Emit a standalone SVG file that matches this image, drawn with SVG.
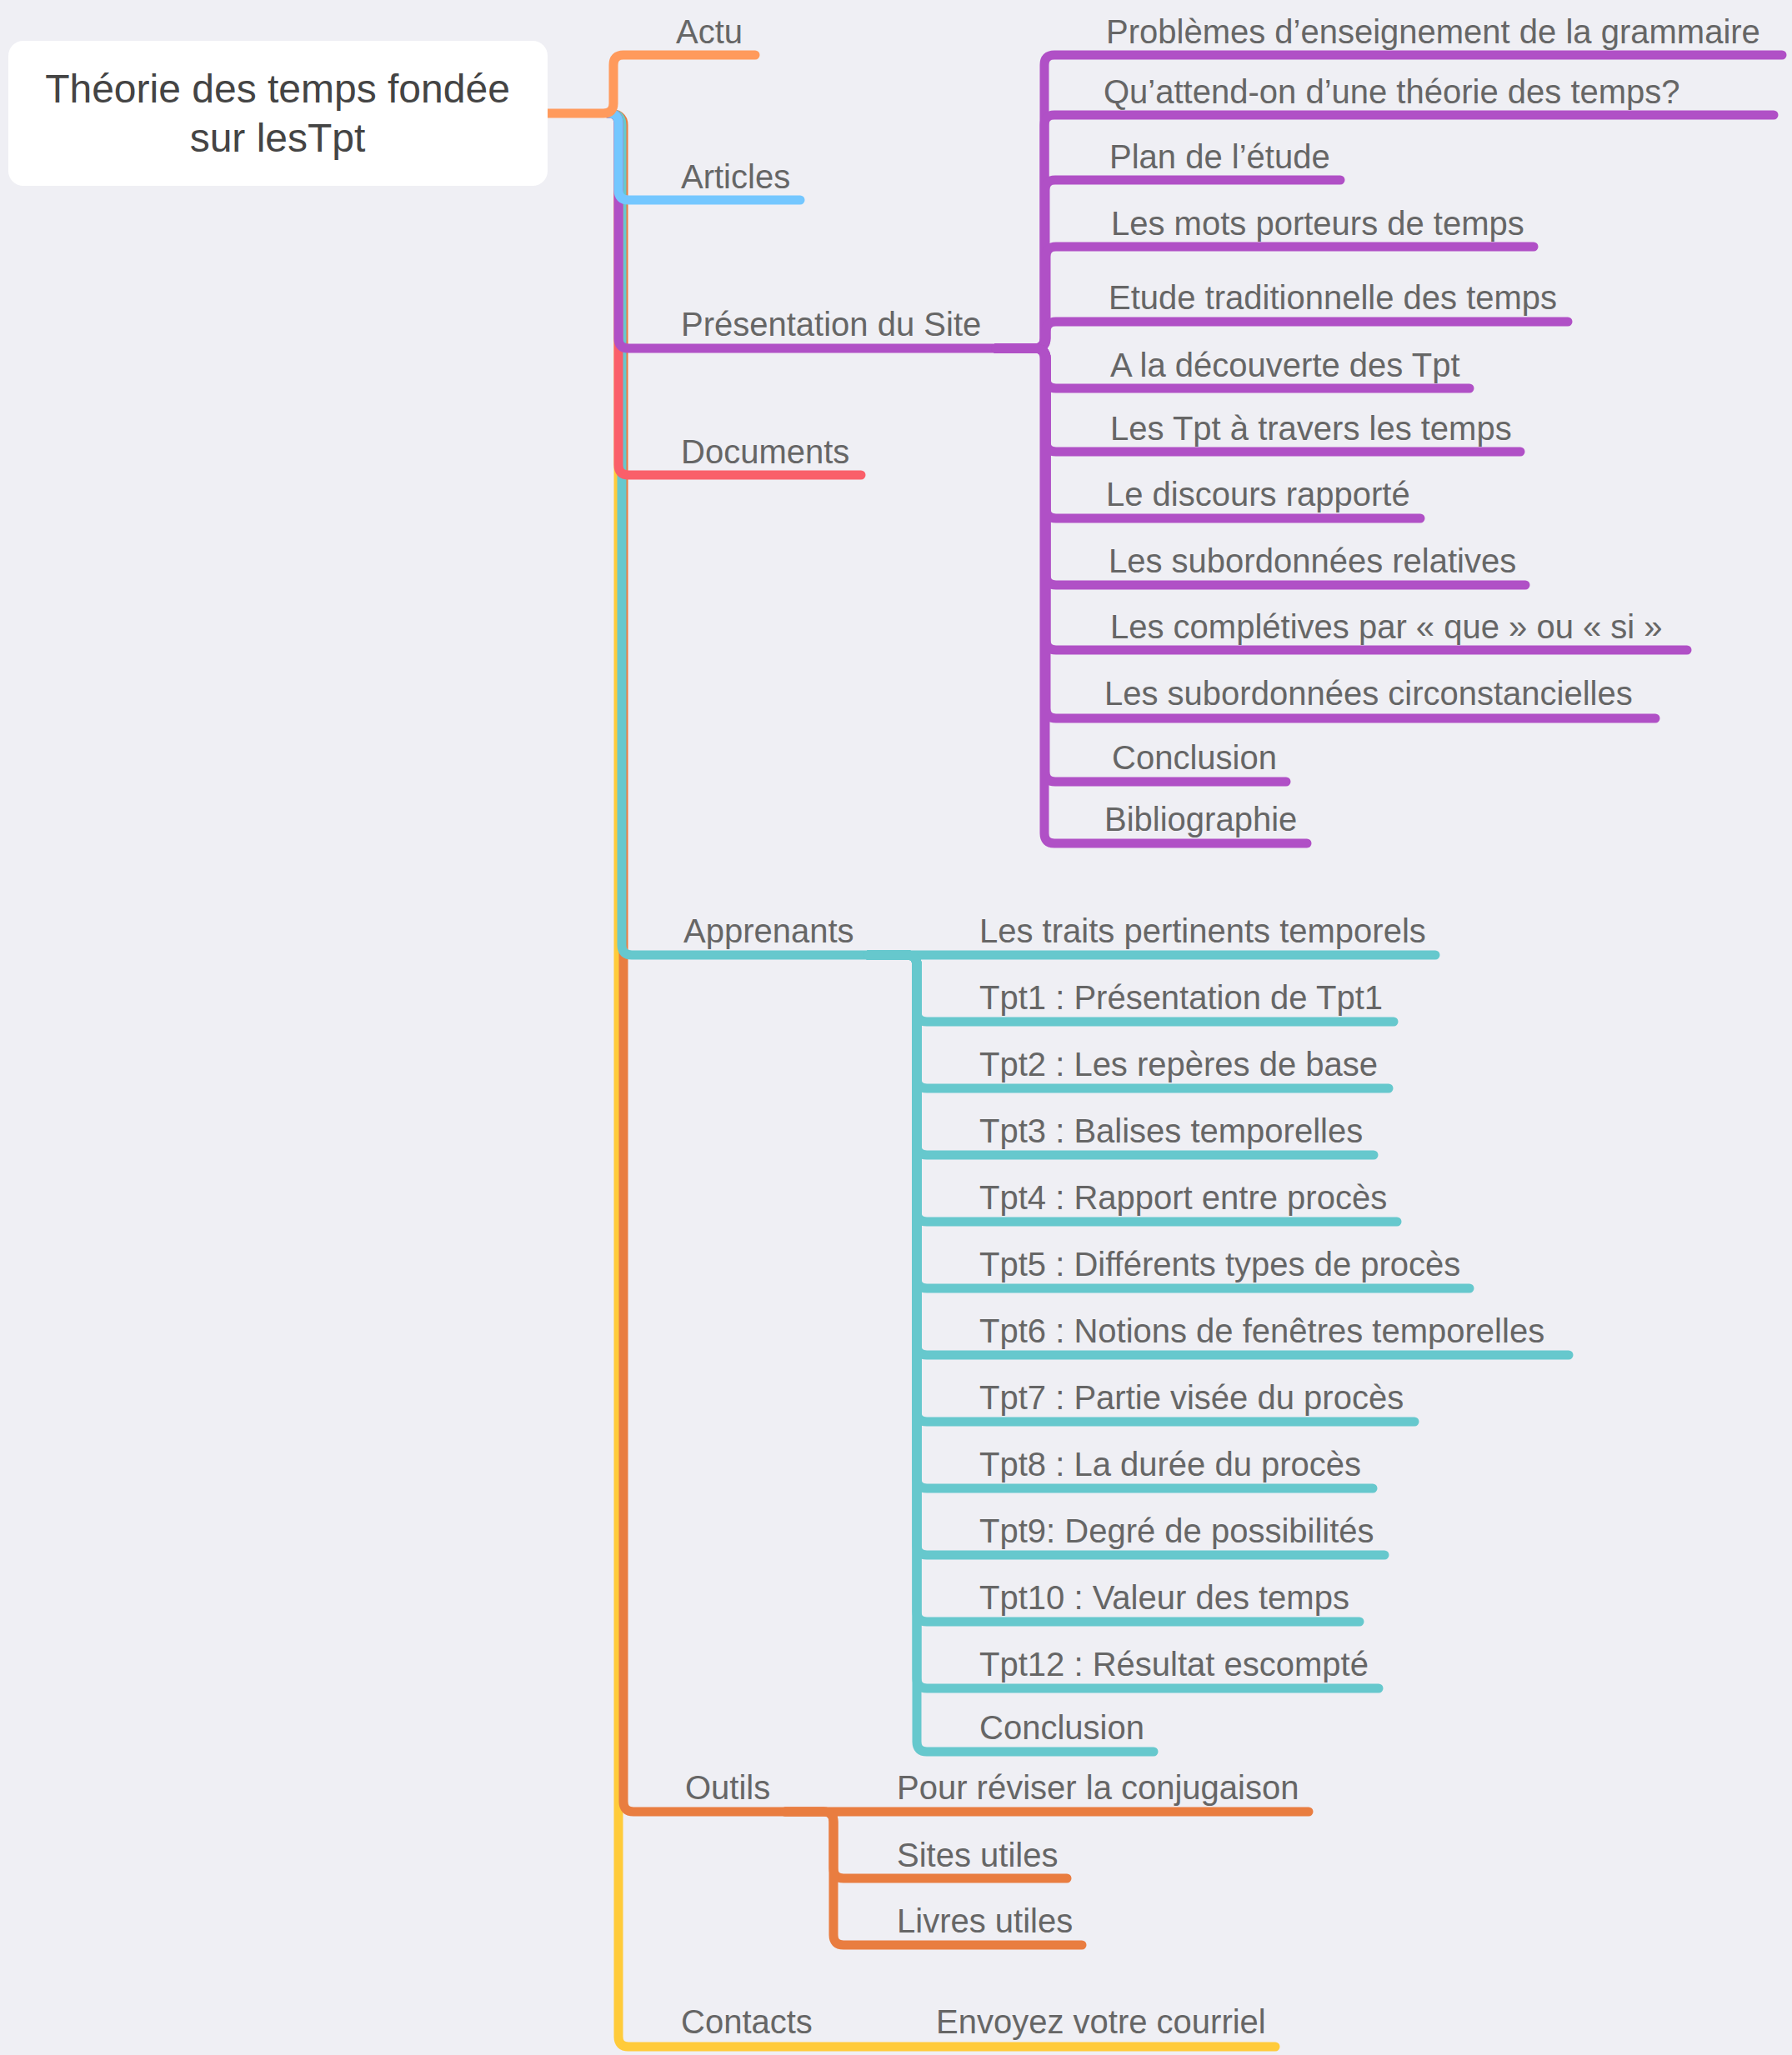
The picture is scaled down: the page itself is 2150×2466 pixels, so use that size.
<svg xmlns="http://www.w3.org/2000/svg" width="2150" height="2466" viewBox="0 0 2150 2466">
<style>
.c{fill:none;stroke-width:11;stroke-linecap:round;stroke-linejoin:round}
.t{font-family:"Liberation Sans",Arial,Helvetica,sans-serif;font-size:40px;fill:#666}
.r{font-family:"Liberation Sans",Arial,Helvetica,sans-serif;font-size:48px;fill:#444;text-anchor:middle}
.or{stroke:#ff9a5c}.bl{stroke:#74c7ff}.pu{stroke:#b050c6}.rd{stroke:#fa5f6a}.te{stroke:#66c8cd}.og{stroke:#e97d40}.ye{stroke:#ffcb3a}
</style>
<rect width="2150" height="2466" fill="#efeff4"/>
<g id="connectors">
<path class="c ye" d="M730 136 Q742 136 742 148 V2444 Q742 2456 754 2456 H1530"/>
<path class="c og" d="M730 136 Q748 136 748 150 V2162 Q748 2174 760 2174 H1570"/>
<path class="c og" d="M942 2174 H988 Q1000 2174 1000 2186 V2242 Q1000 2254 1012 2254 H1280"/>
<path class="c og" d="M942 2174 H988 Q1000 2174 1000 2186 V2322 Q1000 2334 1012 2334 H1298"/>
<path class="c te" d="M730 136 Q746 136 746 150 V1134 Q746 1146 758 1146 H1722"/>
<g class="c te">
<path d="M1042 1146 H1088 Q1100 1146 1100 1158 V1214 Q1100 1226 1112 1226 H1672"/>
<path d="M1042 1146 H1088 Q1100 1146 1100 1158 V1294 Q1100 1306 1112 1306 H1666"/>
<path d="M1042 1146 H1088 Q1100 1146 1100 1158 V1374 Q1100 1386 1112 1386 H1648"/>
<path d="M1042 1146 H1088 Q1100 1146 1100 1158 V1454 Q1100 1466 1112 1466 H1676"/>
<path d="M1042 1146 H1088 Q1100 1146 1100 1158 V1534 Q1100 1546 1112 1546 H1763"/>
<path d="M1042 1146 H1088 Q1100 1146 1100 1158 V1614 Q1100 1626 1112 1626 H1882"/>
<path d="M1042 1146 H1088 Q1100 1146 1100 1158 V1694 Q1100 1706 1112 1706 H1697"/>
<path d="M1042 1146 H1088 Q1100 1146 1100 1158 V1774 Q1100 1786 1112 1786 H1647"/>
<path d="M1042 1146 H1088 Q1100 1146 1100 1158 V1854 Q1100 1866 1112 1866 H1661"/>
<path d="M1042 1146 H1088 Q1100 1146 1100 1158 V1934 Q1100 1946 1112 1946 H1631"/>
<path d="M1042 1146 H1088 Q1100 1146 1100 1158 V2014 Q1100 2026 1112 2026 H1654"/>
<path d="M1042 1146 H1088 Q1100 1146 1100 1158 V2090 Q1100 2102 1112 2102 H1384"/>
</g>
<path class="c rd" d="M730 136 Q742 136 742 148 V558 Q742 570 754 570 H1033"/>
<path class="c pu" d="M730 136 Q742 136 742 148 V406 Q742 418 754 418 H1195"/>
<g class="c pu">
<path d="M1195 418 H1241 Q1253 418 1253 406 V78 Q1253 66 1265 66 H2138"/>
<path d="M1195 418 H1241 Q1253 418 1253 406 V150 Q1253 138 1265 138 H2128"/>
<path d="M1195 418 H1241 Q1254 418 1254 406 V228 Q1254 216 1266 216 H1608"/>
<path d="M1195 418 H1241 Q1255 418 1255 406 V308 Q1255 296 1267 296 H1840"/>
<path d="M1195 418 H1241 Q1255 418 1255 406 V398 Q1255 386 1267 386 H1881"/>
<path d="M1195 418 H1241 Q1255 418 1255 430 V454 Q1255 466 1267 466 H1763"/>
<path d="M1195 418 H1241 Q1255 418 1255 430 V530 Q1255 542 1267 542 H1824"/>
<path d="M1195 418 H1241 Q1255 418 1255 430 V610 Q1255 622 1267 622 H1704"/>
<path d="M1195 418 H1241 Q1255 418 1255 430 V690 Q1255 702 1267 702 H1830"/>
<path d="M1195 418 H1241 Q1255 418 1255 430 V768 Q1255 780 1267 780 H2024"/>
<path d="M1195 418 H1241 Q1255 418 1255 430 V850 Q1255 862 1267 862 H1986"/>
<path d="M1195 418 H1241 Q1254 418 1254 430 V926 Q1254 938 1266 938 H1543"/>
<path d="M1195 418 H1241 Q1253 418 1253 430 V1000 Q1253 1012 1265 1012 H1568"/>
</g>
<path class="c bl" d="M730 136 Q742 136 742 148 V228 Q742 240 754 240 H960"/>
<path class="c or" d="M657 136 H724 Q736 136 736 124 V78 Q736 66 748 66 H906"/>
</g>
<g id="root">
<rect x="10" y="49" width="647" height="174" rx="18" fill="#ffffff"/>
<text class="r" x="333" y="123">Théorie des temps fondée</text>
<text class="r" x="333" y="182">sur lesTpt</text>
</g>
<g id="actu"><text class="t" x="811" y="52">Actu</text></g>
<g id="articles"><text class="t" x="817" y="226">Articles</text></g>
<g id="presentation"><text class="t" x="817" y="403">Présentation du Site</text></g>
<g id="presentation-children">
<text class="t" x="1327" y="52">Problèmes d’enseignement de la grammaire</text>
<text class="t" x="1324" y="124">Qu’attend-on d’une théorie des temps?</text>
<text class="t" x="1331" y="202">Plan de l’étude</text>
<text class="t" x="1333" y="282">Les mots porteurs de temps</text>
<text class="t" x="1330" y="371">Etude traditionnelle des temps</text>
<text class="t" x="1332" y="452">A la découverte des Tpt</text>
<text class="t" x="1332" y="528">Les Tpt à travers les temps</text>
<text class="t" x="1327" y="607">Le discours rapporté</text>
<text class="t" x="1330" y="687">Les subordonnées relatives</text>
<text class="t" x="1332" y="766">Les complétives par « que » ou « si »</text>
<text class="t" x="1325" y="846">Les subordonnées circonstancielles</text>
<text class="t" x="1334" y="923">Conclusion</text>
<text class="t" x="1325" y="997">Bibliographie</text>
</g>
<g id="documents"><text class="t" x="817" y="556">Documents</text></g>
<g id="apprenants"><text class="t" x="820" y="1131">Apprenants</text></g>
<g id="apprenants-children">
<text class="t" x="1175" y="1131">Les traits pertinents temporels</text>
<text class="t" x="1175" y="1211">Tpt1 : Présentation de Tpt1</text>
<text class="t" x="1175" y="1291">Tpt2 : Les repères de base</text>
<text class="t" x="1175" y="1371">Tpt3 : Balises temporelles</text>
<text class="t" x="1175" y="1451">Tpt4 : Rapport entre procès</text>
<text class="t" x="1175" y="1531">Tpt5 : Différents types de procès</text>
<text class="t" x="1175" y="1611">Tpt6 : Notions de fenêtres temporelles</text>
<text class="t" x="1175" y="1691">Tpt7 : Partie visée du procès</text>
<text class="t" x="1175" y="1771">Tpt8 : La durée du procès</text>
<text class="t" x="1175" y="1851">Tpt9: Degré de possibilités</text>
<text class="t" x="1175" y="1931">Tpt10 : Valeur des temps</text>
<text class="t" x="1175" y="2011">Tpt12 : Résultat escompté</text>
<text class="t" x="1175" y="2087">Conclusion</text>
</g>
<g id="outils"><text class="t" x="822" y="2159">Outils</text></g>
<g id="outils-children">
<text class="t" x="1076" y="2159">Pour réviser la conjugaison</text>
<text class="t" x="1076" y="2240">Sites utiles</text>
<text class="t" x="1076" y="2319">Livres utiles</text>
</g>
<g id="contacts"><text class="t" x="817" y="2440">Contacts</text></g>
<g id="contacts-children"><text class="t" x="1123" y="2440">Envoyez votre courriel</text></g>
</svg>
